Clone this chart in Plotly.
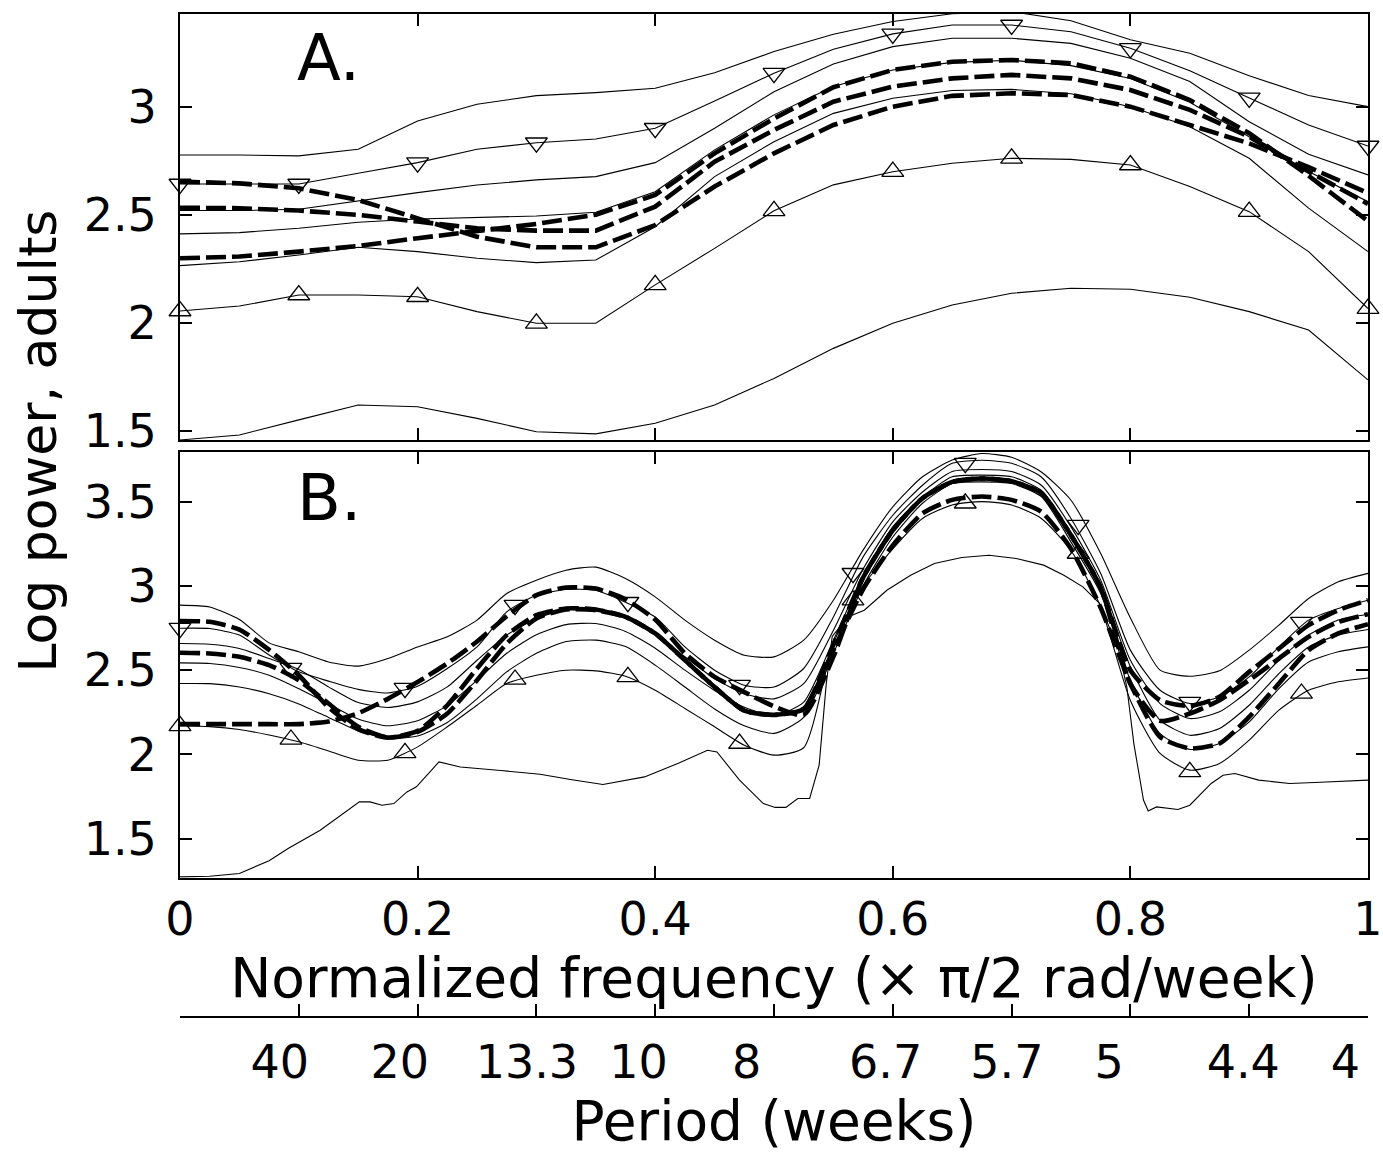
import plotly.graph_objects as go

# ---------------- Panel A (adults, model A) ----------------
freq_a = [0.00, 0.05, 0.10, 0.15, 0.20, 0.25, 0.30, 0.35, 0.40, 0.45, 0.50,
          0.55, 0.60, 0.65, 0.70, 0.75, 0.80, 0.85, 0.90, 0.95, 1.00]
a_upper = [2.776, 2.776, 2.772, 2.803, 2.934, 3.011, 3.051, 3.065, 3.085, 3.157, 3.255,
           3.335, 3.394, 3.430, 3.440, 3.398, 3.310, 3.247, 3.143, 3.052, 3.000]
a_tri_down = [2.642, 2.642, 2.642, 2.692, 2.741, 2.803, 2.833, 2.850, 2.900, 3.026, 3.155,
              3.266, 3.337, 3.378, 3.378, 3.347, 3.270, 3.166, 3.041, 2.915, 2.818]
a_mid_hi = [2.519, 2.519, 2.525, 2.565, 2.602, 2.637, 2.661, 2.676, 2.741, 2.900, 3.069,
            3.198, 3.278, 3.317, 3.317, 3.293, 3.224, 3.116, 2.930, 2.780, 2.684]
a_mid = [2.411, 2.417, 2.437, 2.465, 2.480, 2.488, 2.494, 2.511, 2.606, 2.800, 2.962,
         3.093, 3.170, 3.205, 3.215, 3.190, 3.130, 3.020, 2.860, 2.700, 2.560]
a_mid_lo = [2.264, 2.282, 2.313, 2.349, 2.329, 2.298, 2.278, 2.290, 2.444, 2.676, 2.838,
            2.969, 3.039, 3.075, 3.080, 3.060, 3.000, 2.907, 2.761, 2.530, 2.329]
a_tri_up = [2.054, 2.077, 2.128, 2.128, 2.120, 2.051, 1.997, 1.997, 2.175, 2.344, 2.518,
            2.638, 2.699, 2.738, 2.761, 2.756, 2.730, 2.630, 2.514, 2.329, 2.065]
a_lower = [1.457, 1.480, 1.550, 1.619, 1.611, 1.557, 1.495, 1.485, 1.534, 1.619, 1.742,
           1.881, 1.997, 2.082, 2.136, 2.159, 2.155, 2.118, 2.051, 1.966, 1.735]
a_dash_1 = [2.653, 2.645, 2.622, 2.568, 2.483, 2.398, 2.349, 2.349, 2.452, 2.630, 2.784,
            2.915, 3.000, 3.050, 3.062, 3.054, 3.000, 2.915, 2.830, 2.720, 2.600]
a_dash_2 = [2.532, 2.530, 2.519, 2.499, 2.468, 2.437, 2.426, 2.426, 2.537, 2.745, 2.892,
            3.023, 3.093, 3.131, 3.147, 3.131, 3.077, 2.985, 2.861, 2.700, 2.550]
a_dash_3 = [2.298, 2.306, 2.329, 2.355, 2.391, 2.426, 2.457, 2.500, 2.591, 2.784, 2.945,
            3.090, 3.170, 3.208, 3.216, 3.201, 3.139, 3.031, 2.877, 2.680, 2.470]

# ---------------- Panel B ----------------
freq_b = [0.000, 0.025, 0.050, 0.075, 0.100, 0.125, 0.150, 0.175, 0.200, 0.225,
          0.250, 0.275, 0.300, 0.325, 0.350, 0.375, 0.400, 0.425, 0.450, 0.475,
          0.500, 0.525, 0.550, 0.575, 0.600, 0.625, 0.650, 0.675, 0.700, 0.725,
          0.750, 0.775, 0.800, 0.825, 0.850, 0.875, 0.900, 0.925, 0.950, 0.975, 1.000]
b_upper = [2.886, 2.875, 2.801, 2.662, 2.609, 2.549, 2.524, 2.569, 2.638, 2.698,
           2.797, 2.955, 3.034, 3.093, 3.111, 3.044, 2.935, 2.797, 2.678, 2.589,
           2.579, 2.678, 2.915, 3.212, 3.469, 3.647, 3.746, 3.785, 3.763, 3.675,
           3.508, 3.192, 2.810, 2.500, 2.464, 2.496, 2.619, 2.767, 2.925, 3.024, 3.074]
b_tri_down = [2.749, 2.747, 2.708, 2.590, 2.490, 2.435, 2.386, 2.365, 2.405, 2.510,
              2.638, 2.846, 2.945, 2.979, 2.974, 2.903, 2.816, 2.638, 2.500, 2.411,
              2.400, 2.510, 2.816, 3.172, 3.419, 3.597, 3.727, 3.745, 3.727, 3.646,
              3.400, 3.074, 2.619, 2.381, 2.302, 2.342, 2.460, 2.638, 2.797, 2.866, 2.915]
b_mid_hi = [2.658, 2.654, 2.629, 2.569, 2.504, 2.401, 2.308, 2.279, 2.312, 2.401,
            2.559, 2.708, 2.807, 2.860, 2.860, 2.810, 2.710, 2.580, 2.450, 2.360,
            2.330, 2.420, 2.737, 3.100, 3.380, 3.557, 3.678, 3.690, 3.678, 3.597,
            3.350, 3.034, 2.559, 2.302, 2.213, 2.253, 2.381, 2.559, 2.708, 2.797, 2.832]
b_mid = [2.543, 2.540, 2.516, 2.470, 2.390, 2.300, 2.210, 2.170, 2.200, 2.290,
         2.440, 2.600, 2.710, 2.770, 2.777, 2.730, 2.630, 2.500, 2.380, 2.280,
         2.230, 2.310, 2.678, 3.060, 3.350, 3.527, 3.647, 3.657, 3.647, 3.567,
         3.310, 3.004, 2.520, 2.203, 2.114, 2.154, 2.292, 2.480, 2.638, 2.708, 2.741]
b_mid_lo = [2.421, 2.420, 2.400, 2.360, 2.300, 2.220, 2.140, 2.095, 2.110, 2.190,
            2.330, 2.490, 2.600, 2.670, 2.678, 2.640, 2.530, 2.400, 2.270, 2.170,
            2.125, 2.220, 2.599, 3.000, 3.290, 3.490, 3.607, 3.617, 3.607, 3.530,
            3.260, 2.955, 2.440, 2.124, 2.030, 2.065, 2.193, 2.391, 2.549, 2.609, 2.638]
b_tri_up = [2.170, 2.165, 2.148, 2.116, 2.075, 2.021, 1.966, 1.966, 2.045, 2.164,
            2.292, 2.421, 2.470, 2.500, 2.496, 2.464, 2.381, 2.273, 2.164, 2.055,
            1.996, 2.040, 2.660, 3.000, 3.220, 3.400, 3.480, 3.500, 3.480, 3.400,
            3.210, 2.875, 2.320, 2.006, 1.907, 1.947, 2.085, 2.263, 2.381, 2.431, 2.454]
b_dash_1 = [2.792, 2.787, 2.741, 2.620, 2.470, 2.280, 2.150, 2.100, 2.140, 2.292,
            2.510, 2.708, 2.826, 2.866, 2.860, 2.816, 2.718, 2.560, 2.400, 2.260,
            2.235, 2.270, 2.650, 3.050, 3.330, 3.520, 3.617, 3.637, 3.620, 3.550,
            3.300, 2.990, 2.420, 2.200, 2.243, 2.322, 2.441, 2.569, 2.698, 2.786, 2.832]
b_dash_2 = [2.603, 2.599, 2.579, 2.530, 2.440, 2.302, 2.164, 2.100, 2.134, 2.243,
            2.440, 2.658, 2.807, 2.860, 2.856, 2.816, 2.718, 2.560, 2.400, 2.260,
            2.235, 2.270, 2.620, 2.980, 3.240, 3.430, 3.510, 3.530, 3.510, 3.440,
            3.220, 2.870, 2.420, 2.104, 2.036, 2.065, 2.223, 2.421, 2.619, 2.718, 2.773]
b_dash_3 = [2.180, 2.180, 2.180, 2.180, 2.180, 2.195, 2.245, 2.330, 2.430, 2.540,
            2.670, 2.820, 2.945, 2.990, 2.984, 2.920, 2.800, 2.600, 2.460, 2.370,
            2.285, 2.235, 2.580, 3.050, 3.330, 3.520, 3.617, 3.637, 3.620, 3.550,
            3.300, 2.990, 2.500, 2.322, 2.288, 2.342, 2.490, 2.628, 2.767, 2.856, 2.915]
b_lower_freq = [0.000, 0.025, 0.050, 0.075, 0.091, 0.118, 0.151, 0.160, 0.170, 0.180,
                0.191, 0.199, 0.218, 0.236, 0.270, 0.303, 0.330, 0.356, 0.391, 0.420,
                0.444, 0.452, 0.471, 0.491, 0.501, 0.510, 0.520, 0.530, 0.538, 0.544,
                0.549, 0.562, 0.576, 0.595, 0.615, 0.635, 0.658, 0.681, 0.704, 0.727,
                0.744, 0.760, 0.774, 0.790, 0.797, 0.803, 0.811, 0.815, 0.822, 0.840,
                0.850, 0.868, 0.878, 0.888, 0.908, 0.934, 0.960, 1.000]
b_lower = [1.274, 1.278, 1.294, 1.370, 1.442, 1.551, 1.719, 1.719, 1.699, 1.709,
           1.778, 1.808, 1.956, 1.926, 1.905, 1.883, 1.850, 1.822, 1.867, 1.950,
           2.025, 2.015, 1.848, 1.709, 1.686, 1.686, 1.739, 1.739, 1.937, 2.420,
           2.700, 2.816, 2.856, 2.974, 3.063, 3.133, 3.168, 3.182, 3.162, 3.123,
           3.063, 2.994, 2.896, 2.620, 2.400, 2.060, 1.730, 1.665, 1.689, 1.674,
           1.699, 1.828, 1.877, 1.887, 1.848, 1.828, 1.835, 1.848]
b_marker_freq = [0.000, 0.0934, 0.1894, 0.282, 0.377, 0.471, 0.5665, 0.661, 0.756, 0.850, 0.944]
b_tri_down_marks = [2.749, 2.512, 2.393, 2.886, 2.903, 2.411, 3.075, 3.728, 3.360, 2.310, 2.785]
b_tri_up_marks = [2.170, 2.089, 2.010, 2.445, 2.460, 2.065, 2.915, 3.490, 3.192, 1.897, 2.362]

# ---------------- Axes / labels ----------------
freq_ticks = [0, 0.2, 0.4, 0.6, 0.8, 1.0]
freq_tick_labels = ["0", "0.2", "0.4", "0.6", "0.8", "1"]
a_yticks = [1.5, 2, 2.5, 3]
b_yticks = [1.5, 2, 2.5, 3, 3.5]
period_tick_freq = [0.1, 0.2, 0.3, 0.4, 0.5, 0.6, 0.7, 0.8, 0.9, 1.0]
period_label_freq = [0.084, 0.185, 0.292, 0.386, 0.477, 0.594, 0.696, 0.782, 0.895, 0.981]
period_labels = ["40", "20", "13.3", "10", "8", "6.7", "5.7", "5", "4.4", "4"]
a_range = [1.457, 3.429]
b_range = [1.269, 3.796]

FONT = "DejaVu Sans"
fig = go.Figure()


def add_line(x, y, xa, ya, dashed=False, smooth=False):
    line = dict(color="black", width=4.6 if dashed else 1.1,
                dash="20px,6px" if dashed else "solid")
    if smooth:
        line["shape"] = "spline"
        line["smoothing"] = 0.6
    fig.add_trace(go.Scatter(x=x, y=y, xaxis=xa, yaxis=ya, mode="lines", line=line,
                             showlegend=False, hoverinfo="skip"))


def add_markers(x, y, xa, ya, symbol):
    fig.add_trace(go.Scatter(x=x, y=y, xaxis=xa, yaxis=ya, mode="markers",
                             marker=dict(symbol=symbol, size=19, color="black",
                                         line=dict(color="black", width=1.3)),
                             cliponaxis=False, showlegend=False, hoverinfo="skip"))


# Panel A
for s in [a_upper, a_tri_down, a_mid_hi, a_mid, a_mid_lo, a_tri_up, a_lower]:
    add_line(freq_a, s, "x", "y")
for s in [a_dash_1, a_dash_2, a_dash_3]:
    add_line(freq_a, s, "x", "y", dashed=True)
add_markers(freq_a[::2], a_tri_down[::2], "x", "y", "triangle-down-open")
add_markers(freq_a[::2], a_tri_up[::2], "x", "y", "triangle-up-open")

# Panel B
for s in [b_upper, b_tri_down, b_mid_hi, b_mid, b_mid_lo, b_tri_up]:
    add_line(freq_b, s, "x2", "y2", smooth=True)
add_line(b_lower_freq, b_lower, "x2", "y2")
for s in [b_dash_1, b_dash_2, b_dash_3]:
    add_line(freq_b, s, "x2", "y2", dashed=True, smooth=True)
add_markers(b_marker_freq, b_tri_down_marks, "x2", "y2", "triangle-down-open")
add_markers(b_marker_freq, b_tri_up_marks, "x2", "y2", "triangle-up-open")

# Period axis carriers (invisible): one axis for tick marks, one for the labels
fig.add_trace(go.Scatter(x=period_tick_freq, y=[0] * len(period_tick_freq), xaxis="x3", yaxis="y3",
                         mode="markers", marker=dict(opacity=0), showlegend=False, hoverinfo="skip"))
fig.add_trace(go.Scatter(x=period_label_freq, y=[0] * len(period_label_freq), xaxis="x4", yaxis="y3",
                         mode="markers", marker=dict(opacity=0), showlegend=False, hoverinfo="skip"))

common_x = dict(range=[0, 1], ticks="inside", ticklen=12, tickwidth=1.5, tickcolor="black",
                showline=True, linewidth=2, linecolor="black", mirror="ticks",
                showgrid=False, zeroline=False)
common_y = dict(ticks="inside", ticklen=12, tickwidth=1.5, tickcolor="black",
                showline=True, linewidth=2, linecolor="black", mirror="ticks",
                showgrid=False, zeroline=False, tickfont=dict(size=46, family=FONT),
                ticklabelstandoff=12)

fig.update_layout(
    width=1383, height=1154,
    margin=dict(l=180, r=15, t=14, b=138, autoexpand=False),
    paper_bgcolor="white", plot_bgcolor="white",
    font=dict(family=FONT, color="black", size=46),
    showlegend=False,
    xaxis=dict(domain=[0, 1], anchor="y", tickvals=freq_ticks, showticklabels=False, **common_x),
    yaxis=dict(domain=[0.5749, 1.0], anchor="x", range=a_range, tickvals=a_yticks, **common_y),
    xaxis2=dict(domain=[0, 1], anchor="y2", tickvals=freq_ticks, ticktext=freq_tick_labels,
                tickfont=dict(size=46, family=FONT), ticklabelstandoff=0,
                title=dict(text="Normalized frequency (× π/2 rad/week)",
                           font=dict(size=55, family=FONT), standoff=2),
                **common_x),
    yaxis2=dict(domain=[0.1380, 0.5632], anchor="x2", range=b_range, tickvals=b_yticks, **common_y),
    xaxis3=dict(domain=[0, 1], anchor="y3", range=[0, 1], tickvals=period_tick_freq,
                showticklabels=False, ticks="inside", ticklen=12, tickwidth=1.5,
                tickcolor="black", showline=True, linewidth=1.5, linecolor="black",
                showgrid=False, zeroline=False),
    xaxis4=dict(overlaying="x3", anchor="y3", side="bottom", range=[0, 1],
                tickvals=period_label_freq, ticktext=period_labels, ticks="",
                showline=False, showgrid=False, zeroline=False,
                tickfont=dict(size=46, family=FONT), ticklabelstandoff=15,
                title=dict(text="Period (weeks)", font=dict(size=55, family=FONT), standoff=9)),
    yaxis3=dict(domain=[0, 0.002], anchor="x3", visible=False),
    annotations=[
        dict(text="Log power, adults", xref="paper", yref="paper", x=-0.1195, y=0.5733,
             textangle=-90, showarrow=False, font=dict(size=52, family=FONT),
             xanchor="center", yanchor="middle"),
        dict(text="A.", xref="x", yref="y", x=0.125, y=3.225, showarrow=False,
             font=dict(size=64, family=FONT), xanchor="center", yanchor="middle"),
        dict(text="B.", xref="x2", yref="y2", x=0.125, y=3.52, showarrow=False,
             font=dict(size=64, family=FONT), xanchor="center", yanchor="middle"),
    ],
)

fig.write_html("out.html")
